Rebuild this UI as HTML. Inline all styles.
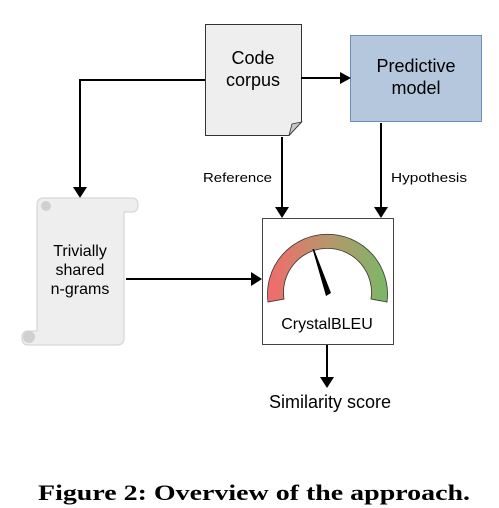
<!DOCTYPE html>
<html><head><style>
body{margin:0;background:#fff;}
svg{display:block;}
text{font-family:"Liberation Sans",sans-serif;}
</style></head><body>
<svg width="499" height="508" viewBox="0 0 499 508" xmlns="http://www.w3.org/2000/svg">
<defs>
<linearGradient id="g" x1="0" x2="1" y1="0" y2="0">
<stop offset="0" stop-color="#f26b6b"/>
<stop offset="0.5" stop-color="#b9956b"/>
<stop offset="1" stop-color="#7ab866"/>
</linearGradient>
</defs>
<path d="M205.5 24.5 H301.5 V122 L289 135.5 H205.5 Z" fill="#eeeeee" stroke="#333" stroke-width="1"/>
<path d="M289 135.5 L292 124 L301.5 122 Z" fill="#c8c8c8" stroke="#333" stroke-width="0.8"/>
<text x="253" y="64" font-size="18" text-anchor="middle">Code</text>
<text x="253" y="86" font-size="18" text-anchor="middle">corpus</text>
<rect x="350.5" y="35.5" width="131" height="86" fill="#b4c7dc" stroke="#6d8ebf" stroke-width="1"/>
<text x="416" y="72" font-size="18" text-anchor="middle">Predictive</text>
<text x="416" y="94" font-size="18" text-anchor="middle">model</text>
<g stroke="#000" stroke-width="2" fill="none">
<path d="M205 80 H80 V188"/>
<path d="M301 78 H340"/>
<path d="M282 137 V208"/>
<path d="M381 123 V208"/>
<path d="M126 279 H252"/>
<path d="M327 345 V378"/>
</g>
<g fill="#000">
<path d="M73 187 H87 L80 198 Z"/>
<path d="M340 72 L351 78 L340 84 Z"/>
<path d="M275 207 H289 L282 218 Z"/>
<path d="M374 207 H388 L381 218 Z"/>
<path d="M251 272 L262 279 L251 286 Z"/>
<path d="M320 377 H334 L327 388 Z"/>
</g>
<text x="203" y="182" font-size="13" textLength="69" lengthAdjust="spacingAndGlyphs">Reference</text>
<text x="391" y="182" font-size="13" textLength="76" lengthAdjust="spacingAndGlyphs">Hypothesis</text>
<path d="M37 205 Q37 198 44 198 H132 Q138 198 138 205 Q138 212 132 212 H124 V338 Q124 345 117 345 H28 Q22 345 22 338 Q22 331 28 331 H37 Z" fill="#eeeeee" stroke="#d6d6d6" stroke-width="1.2"/>
<circle cx="46" cy="206" r="5" fill="#d0d0d0"/>
<circle cx="29" cy="337" r="6" fill="#d0d0d0"/>
<text x="80" y="256" font-size="16" text-anchor="middle">Trivially</text>
<text x="80" y="275" font-size="16" text-anchor="middle">shared</text>
<text x="80" y="294" font-size="16" text-anchor="middle">n-grams</text>
<rect x="262.5" y="218.5" width="131" height="126" fill="#fff" stroke="#444" stroke-width="1"/>
<path d="M268 302 A60 60 0 1 1 387 302 L371 299 A44 44 0 1 0 284 299 Z" fill="url(#g)" stroke="#333" stroke-width="0.8"/>
<path d="M312.5 249 L314 249 L331 293 L326 296 Z" fill="#000"/>
<text x="327" y="329" font-size="16" text-anchor="middle">CrystalBLEU</text>
<text x="330" y="408" font-size="18" text-anchor="middle">Similarity score</text>
<text x="38" y="500" font-size="22" font-weight="bold" textLength="432" lengthAdjust="spacingAndGlyphs" style="font-family:'Liberation Serif',serif">Figure 2: Overview of the approach.</text>
</svg>
</body></html>
